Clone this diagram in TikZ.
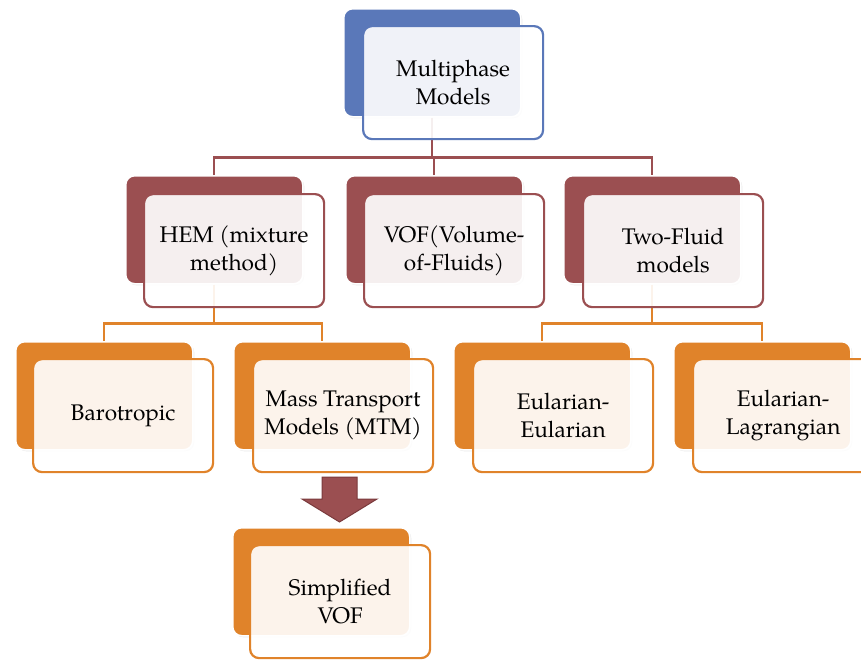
\documentclass[tikz,border=0pt]{standalone}
\usepackage{fontspec}
\setmainfont{TeX Gyre Pagella}
\usetikzlibrary{shadows}
\definecolor{cblue}{HTML}{5A78B9}
\definecolor{cred}{HTML}{9B4F51}
\definecolor{corange}{HTML}{E0832A}
\definecolor{cdark}{HTML}{7A3A3C}
\begin{document}
\begin{tikzpicture}[x=1pt,y=-1pt,
  back/.style={anchor=north west, rectangle, rounded corners=9pt, draw=white,
    line width=1.5pt, minimum width=177pt, minimum height=108pt, inner sep=0pt,
    drop shadow={opacity=0.18, shadow xshift=1.5pt, shadow yshift=-1.5pt}},
  front/.style={anchor=north west, rectangle, rounded corners=9pt, line width=2.2pt,
    fill=white, fill opacity=0.91, text opacity=1, minimum width=180pt,
    minimum height=113pt, align=center, inner sep=0pt,
    font=\fontsize{22.6}{28.5}\selectfont},
  conn/.style={line width=2.3pt},
  blockarrow/.style={fill=cred, draw=cdark, line width=1pt}]
\useasboundingbox (0,0) rectangle (861,659);
\clip (0,0) rectangle (861,659);

% back rectangles
\node[back, fill=cblue] (topb) at (343,8) {};
\node[back, fill=cred] (hemb) at (125,175) {};
\node[back, fill=cred] (vofb) at (345,175) {};
\node[back, fill=cred] (tfb) at (563,175) {};
\node[back, fill=corange] (barb) at (15,341) {};
\node[back, fill=corange] (mtmb) at (233,341) {};
\node[back, fill=corange] (eeb) at (453,341) {};
\node[back, fill=corange] (elb) at (673,341) {};
\node[back, fill=corange] (svb) at (232,527) {};

% connectors
\coordinate (j1) at ([yshift=-40pt]topb.south);
\coordinate (j2) at ([yshift=-39pt]hemb.south);
\coordinate (j3) at ([yshift=-39pt]tfb.south);
\draw[conn, cred] (topb.south) -- (j1);
\draw[conn, cred] (hemb.north) |- (j1) -| (tfb.north);
\draw[conn, cred] (vofb.north) -- (vofb.north |- j1);
\draw[conn, corange] (hemb.south) -- (j2);
\draw[conn, corange] (barb.north) |- (j2) -| (mtmb.north);
\draw[conn, corange] (tfb.south) -- (j3);
\draw[conn, corange] (eeb.north) |- (j3) -| (elb.north);

% front rectangles
\node[front, draw=cblue] (top) at (362,25) {Multiphase\\Models};
\node[front, draw=cred] (hem) at (143,193) {HEM (mixture\\method)};
\node[front, draw=cred] (vof) at (363,193) {VOF(Volume-\\of-Fluids)};
\node[front, draw=cred] (tf) at (582,193) {Two-Fluid\\models};
\node[front, draw=corange] (bar) at (32,358) {Barotropic};
\node[front, draw=corange] (mtm) at (252,358) {Mass Transport\\Models (MTM)};
\node[front, draw=corange] (ee) at (472,358) {Eularian-\\Eularian};
\node[front, draw=corange] (el) at (692,358) {Eularian-\\Lagrangian};
\node[front, draw=corange] (sv) at (249,544) {Simplified\\VOF};

% block arrow
\draw[blockarrow] (322,477) -- (357,477) -- (357,499) -- (377,499)
  -- (339.5,522) -- (302,499) -- (322,499) -- cycle;
\end{tikzpicture}
\end{document}
